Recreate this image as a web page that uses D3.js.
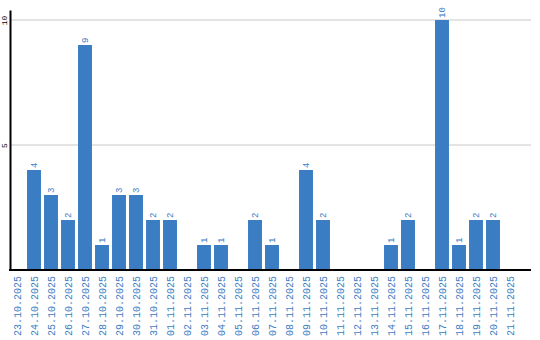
<!DOCTYPE html>
<html>
<head>
<meta charset="utf-8">
<script src="https://cdn.jsdelivr.net/npm/d3@7"></script>
<style>
  body { margin: 0; background: #fff; }
  text { font-family: "Liberation Mono", monospace; }
</style>
</head>
<body>
<script>
const width = 540;
const height = 340;
const blue = '#3b7dc3';

const dates = ['23.10.2025','24.10.2025','25.10.2025','26.10.2025','27.10.2025','28.10.2025',
  '29.10.2025','30.10.2025','31.10.2025','01.11.2025','02.11.2025','03.11.2025','04.11.2025',
  '05.11.2025','06.11.2025','07.11.2025','08.11.2025','09.11.2025','10.11.2025','11.11.2025',
  '12.11.2025','13.11.2025','14.11.2025','15.11.2025','16.11.2025','17.11.2025','18.11.2025',
  '19.11.2025','20.11.2025','21.11.2025'];
const counts = [0,4,3,2,9,1,3,3,2,2,0,1,1,0,2,1,0,4,2,0,0,0,1,2,0,10,1,2,2,0];
const yTicks = [5, 10];

const data = dates.map((d, i) => ({ date: d, value: counts[i] }));

const svg = d3.select('body').append('svg')
    .attr('width', width)
    .attr('height', height);

const x = d3.scaleBand()
    .domain(dates)
    .range([8.5, 518.5])
    .paddingInner(0.18)
    .paddingOuter(0.09);

const y = d3.scaleLinear()
    .domain([0, 10.4])
    .range([270, 10]);

// grid
svg.append('g').selectAll('line')
    .data(yTicks)
    .join('line')
    .attr('x1', 10).attr('x2', 531)
    .attr('y1', d => y(d)).attr('y2', d => y(d))
    .attr('stroke', '#c8c8c8');

// bars
svg.append('g').selectAll('rect')
    .data(data.filter(d => d.value > 0))
    .join('rect')
    .attr('x', d => x(d.date))
    .attr('y', d => y(d.value))
    .attr('width', x.bandwidth())
    .attr('height', d => y(0) - y(d.value))
    .attr('fill', blue);

// value labels
svg.append('g').selectAll('text')
    .data(data.filter(d => d.value > 0))
    .join('text')
    .attr('transform', d => `translate(${x(d.date) + x.bandwidth() / 2},${y(d.value) - 2}) rotate(-90)`)
    .attr('dy', '0.35em')
    .attr('font-size', 9)
    .attr('fill', blue)
    .text(d => d.value);

// y axis
const yAxis = svg.append('g')
    .attr('transform', 'translate(10,0)')
    .call(d3.axisLeft(y).tickValues(yTicks).tickSize(0).tickPadding(5));
yAxis.select('.domain').attr('stroke', '#000').attr('stroke-width', 2);
yAxis.selectAll('text')
    .attr('font-size', 8)
    .attr('fill', '#000')
    .attr('transform', 'rotate(-90)')
    .attr('x', 0)
    .attr('y', -3)
    .attr('dy', 0)
    .attr('text-anchor', 'middle');

// x axis
const xAxis = svg.append('g')
    .attr('transform', 'translate(0,270)')
    .call(d3.axisBottom(x).tickSize(0).tickSizeOuter(0));
xAxis.select('.domain').remove();
xAxis.selectAll('text')
    .attr('font-size', 10)
    .attr('fill', blue)
    .attr('transform', 'rotate(-90)')
    .attr('text-anchor', 'end')
    .attr('x', -6)
    .attr('y', 0)
    .attr('dy', '0.35em');

svg.append('line')
    .attr('x1', 9).attr('x2', 531)
    .attr('y1', y(0)).attr('y2', y(0))
    .attr('stroke', '#000')
    .attr('stroke-width', 2);
</script>
</body>
</html>
